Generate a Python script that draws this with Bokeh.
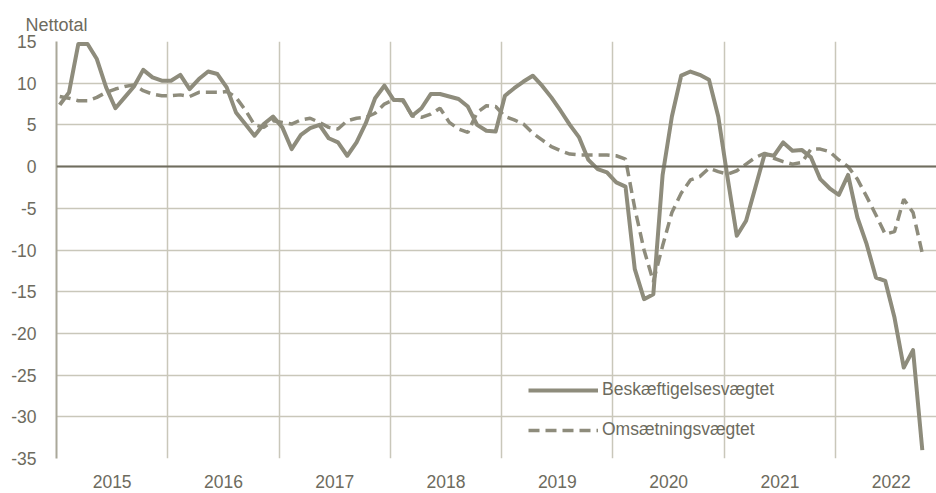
import numpy as np
from bokeh.plotting import figure
from bokeh.models import Legend, LegendItem, FixedTicker, Span, Range1d, PrintfTickFormatter
from bokeh.embed import file_html
from bokeh.resources import INLINE

# Monthly data, Jan 2015 - Oct 2022
beskaeftigelse = [
    7.4, 8.9, 14.7, 14.7, 12.9, 9.5, 7.0, 8.3, 9.6, 11.6, 10.7, 10.3,   # 2015
    10.3, 11.0, 9.3, 10.5, 11.4, 11.1, 9.5, 6.5, 5.1, 3.7, 5.1, 6.0,    # 2016
    4.7, 2.1, 3.8, 4.6, 5.0, 3.4, 2.9, 1.3, 2.9, 5.2, 8.2, 9.7,         # 2017
    8.0, 8.0, 6.1, 7.0, 8.7, 8.7, 8.4, 8.1, 7.2, 5.0, 4.3, 4.2,         # 2018
    8.5, 9.4, 10.2, 10.9, 9.7, 8.3, 6.7, 5.0, 3.5, 0.8, -0.3, -0.7,     # 2019
    -1.9, -2.4, -12.3, -15.9, -15.3, -1.0, 6.0, 10.9, 11.4, 11.0, 10.4, 6.0,  # 2020
    -1.3, -8.3, -6.5, -2.5, 1.5, 1.3, 2.9, 1.9, 2.0, 1.1, -1.5, -2.6,   # 2021
    -3.4, -1.0, -6.1, -9.3, -13.3, -13.7, -18.1, -24.1, -22.0, -34.0,   # 2022
]
omsaetning = [
    8.4, 8.2, 7.9, 7.9, 8.3, 8.9, 9.3, 9.6, 9.8, 9.1, 8.7, 8.5,         # 2015
    8.5, 8.6, 8.4, 8.9, 8.9, 8.9, 9.0, 8.3, 6.8, 5.0, 4.7, 5.5,         # 2016
    5.3, 5.1, 5.6, 5.8, 5.3, 4.7, 4.5, 5.5, 5.8, 5.9, 6.4, 7.5,         # 2017
    8.0, 7.9, 6.1, 5.9, 6.3, 7.0, 5.3, 4.5, 4.1, 6.5, 7.3, 7.2,         # 2018
    6.0, 5.6, 5.1, 4.0, 3.2, 2.4, 1.9, 1.5, 1.4, 1.4, 1.4, 1.4,         # 2019
    1.3, 0.9, -5.0, -10.0, -13.8, -9.5, -5.5, -3.2, -1.6, -1.2, -0.2, -0.6,  # 2020
    -0.9, -0.5, 0.3, 1.1, 1.6, 1.0, 0.6, 0.3, 0.5, 2.1, 2.1, 1.8,       # 2021
    0.8, 0.0, -1.5, -3.6, -5.8, -8.1, -7.8, -3.9, -5.5, -10.4,          # 2022
]
years = ["2015", "2016", "2017", "2018", "2019", "2020", "2021", "2022"]
y_ticks = [-35, -30, -25, -20, -15, -10, -5, 0, 5, 10, 15]

series_names = ["Beskæftigelsesvægtet", "Omsætningsvægtet"]

months = np.arange(len(beskaeftigelse)) + 0.35

LINE = "#8e8c7c"
GRID = "#c9c7ba"
TEXT = "#6d6b5e"
FONT = "Liberation Sans"
FS = "17.5px"

p = figure(width=936, height=493, output_backend="svg", toolbar_location=None,
           x_range=Range1d(0, 94.88), y_range=Range1d(-35, 15),
           min_border_left=56, min_border_right=0, min_border_top=41, min_border_bottom=35)
p.outline_line_color = None

p.title.text = "Nettotal"
p.title.align = "left"
p.title.offset = -31
p.title.text_font = FONT
p.title.text_font_size = "18px"
p.title.text_font_style = "normal"
p.title.text_color = TEXT
p.title.standoff = 14

r1 = p.line(months, beskaeftigelse, line_color=LINE, line_width=4, line_join="round")
r2 = p.line(months, omsaetning, line_color=LINE, line_width=3.5, line_dash="11 6")

zero = Span(location=0, dimension="width", line_color="#6f6d5f", line_width=2)
p.add_layout(zero)

# axes
p.xaxis.ticker = FixedTicker(ticks=[6 + 12 * i for i in range(len(years))])
p.xaxis.major_label_overrides = {6 + 12 * i: y for i, y in enumerate(years)}
p.xaxis.axis_line_color = None
p.xaxis.major_tick_line_color = None
p.xaxis.minor_tick_line_color = None
p.xaxis.major_tick_out = 0
p.xaxis.major_label_standoff = 16
p.xaxis.major_label_text_font = FONT
p.xaxis.major_label_text_font_size = FS
p.xaxis.major_label_text_color = TEXT

p.yaxis.ticker = FixedTicker(ticks=y_ticks)
p.yaxis.formatter = PrintfTickFormatter(format="%d")
p.yaxis.axis_line_color = "#aaa89a"
p.yaxis.axis_line_width = 2
p.yaxis.major_tick_line_color = None
p.yaxis.minor_tick_line_color = None
p.yaxis.major_tick_out = 0
p.yaxis.major_label_standoff = 20
p.yaxis.major_label_text_font = FONT
p.yaxis.major_label_text_font_size = FS
p.yaxis.major_label_text_color = TEXT

p.xgrid.ticker = FixedTicker(ticks=[12 * i for i in range(1, len(years))])
p.xgrid.grid_line_color = GRID
p.xgrid.grid_line_width = 1.5
p.ygrid.grid_line_color = GRID
p.ygrid.grid_line_width = 1.5

legend = Legend(items=[LegendItem(label=series_names[0], renderers=[r1]),
                       LegendItem(label=series_names[1], renderers=[r2])],
                location=(472, 18), orientation="vertical")
legend.glyph_width = 70
legend.glyph_height = 20
legend.label_height = 20
legend.label_standoff = 4
legend.spacing = 19
legend.padding = 0
legend.margin = 0
legend.border_line_color = None
legend.background_fill_alpha = 0
legend.label_text_font = FONT
legend.label_text_font_size = FS
legend.label_text_color = TEXT
p.add_layout(legend)

open("out.html", "w").write(file_html(p, INLINE))
